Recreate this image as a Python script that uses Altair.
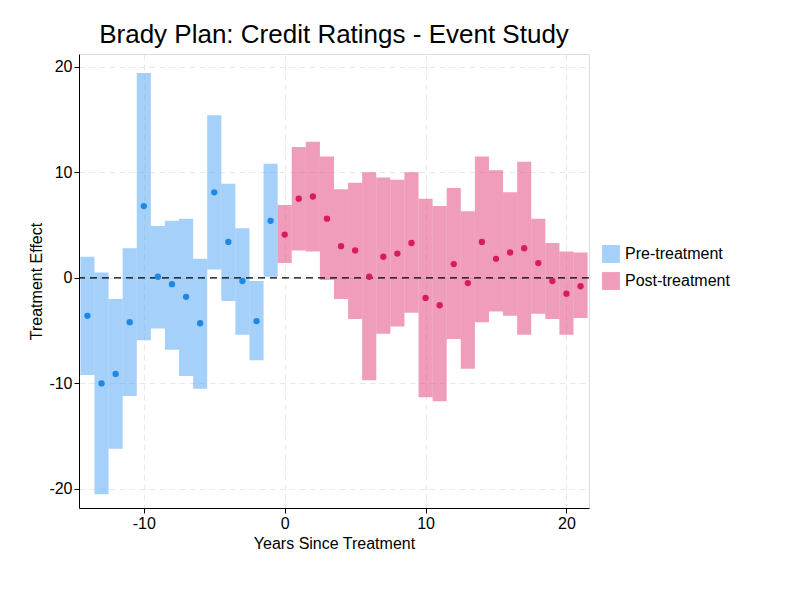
import altair as alt
import pandas as pd

pre_t = list(range(-14, 0))
pre_est = [-3.6, -10.0, -9.1, -4.2, 6.8, 0.1, -0.6, -1.8, -4.3, 8.1, 3.4, -0.3, -4.1, 5.4]
pre_lo = [-9.2, -20.5, -16.2, -11.2, -5.9, -4.8, -6.8, -9.3, -10.5, 0.8, -2.2, -5.4, -7.8, 0.1]
pre_hi = [2.0, 0.5, -2.0, 2.8, 19.4, 4.9, 5.4, 5.6, 1.8, 15.4, 8.9, 4.7, -0.3, 10.8]

post_t = list(range(0, 22))
post_est = [4.1, 7.5, 7.7, 5.6, 3.0, 2.6, 0.1, 2.0, 2.3, 3.3, -1.9, -2.6, 1.3, -0.5, 3.4, 1.8, 2.4, 2.8, 1.4, -0.3, -1.5, -0.8]
post_lo = [1.4, 2.6, 2.5, -0.2, -2.0, -3.9, -9.7, -5.3, -4.6, -3.3, -11.3, -11.7, -5.8, -8.6, -4.2, -3.2, -3.6, -5.4, -3.4, -3.9, -5.4, -3.8]
post_hi = [6.9, 12.4, 12.9, 11.5, 8.4, 9.0, 10.0, 9.5, 9.3, 10.0, 7.5, 6.8, 8.5, 6.3, 11.5, 10.2, 8.1, 11.0, 5.6, 3.3, 2.5, 2.4]

rows = []
for t, e, l, h in zip(pre_t, pre_est, pre_lo, pre_hi):
    rows.append(dict(t=t, x0=t - 0.5, x1=t + 0.5, est=e, lo=l, hi=h, g="Pre-treatment"))
for t, e, l, h in zip(post_t, post_est, post_lo, post_hi):
    rows.append(dict(t=t, x0=t - 0.5, x1=t + 0.5, est=e, lo=l, hi=h, g="Post-treatment"))
df = pd.DataFrame(rows)

xs = alt.Scale(domain=[-14.6, 21.6], nice=False, zero=False)
ys = alt.Scale(domain=[-21.8, 21.2], nice=False, zero=False)
dom = ["Pre-treatment", "Post-treatment"]

common = dict(grid=True, gridDash=[6, 4], gridColor="#e8e8e8", domainColor="black", tickColor="black",
              labelFontSize=16, titleFontSize=16, labelColor="black", titleColor="black",
              titleFontWeight="normal", labelFont="Liberation Sans", titleFont="Liberation Sans",
              labelExpr="replace(format(datum.value, 'd'), '\u2212', '-')")

bars = alt.Chart(df).mark_rect(opacity=0.55).encode(
    x=alt.X("x0:Q", scale=xs, title="Years Since Treatment", axis=alt.Axis(values=[-10, 0, 10, 20], **common)),
    x2="x1:Q",
    y=alt.Y("lo:Q", scale=ys, title="Treatment Effect", axis=alt.Axis(values=[-20, -10, 0, 10, 20], **common)),
    y2="hi:Q",
    color=alt.Color("g:N", scale=alt.Scale(domain=dom, range=["#5aa9f5", "#e24d82"]), sort=dom,
                    legend=alt.Legend(title=None, labelFontSize=16, labelFont="Liberation Sans", symbolType="square",
                                      symbolSize=320, symbolOpacity=0.55, labelColor="black",
                                      orient="none", legendX=522, legendY=190, rowPadding=8)),
)

zero = alt.Chart(pd.DataFrame({"y": [0]})).mark_rule(color="black", strokeDash=[7, 5], strokeWidth=1.2).encode(y=alt.Y("y:Q", scale=ys))

pts = alt.Chart(df).mark_circle(size=40, opacity=1).encode(
    x=alt.X("t:Q", scale=xs), y=alt.Y("est:Q", scale=ys),
    color=alt.Color("g:N", scale=alt.Scale(domain=dom, range=["#1e88e5", "#d81b60"]), legend=None),
)

chart = alt.layer(bars, zero, pts).resolve_scale(color="independent").properties(
    width=510, height=454,
    padding={"left": 20, "top": 14, "right": 5, "bottom": 5},
    title=alt.Title("Brady Plan: Credit Ratings - Event Study", fontSize=26, fontWeight="normal",
                    font="Liberation Sans", color="black", anchor="middle", offset=6),
).configure_view(stroke=None).configure(background="white")

chart.save("out.html", embed_options={"renderer": "svg", "actions": False})
